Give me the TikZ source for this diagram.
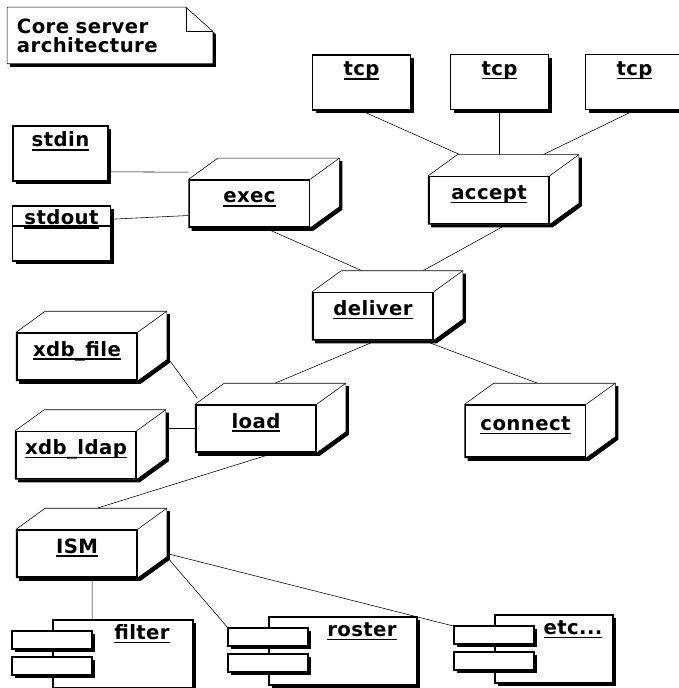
\documentclass[tikz,border=0pt]{standalone}
\usepackage{fontspec}
\usepackage{tikz}
\usetikzlibrary{calc, shadows}

\newfontfamily\umlfont[LetterSpace=2]{DejaVu Sans}
\newsavebox{\unamebox}
\newcommand{\uname}[1]{\sbox{\unamebox}{#1}\rlap{\vrule height -1.5pt depth 2.6pt width \wd\unamebox}\usebox{\unamebox}}

\pgfdeclarelayer{background}
\pgfsetlayers{background,main}

\def\dx{29}
\def\dy{-21}

\begin{document}
\begin{tikzpicture}[
    x=0.025cm, y=-0.025cm,
    line width=1.1pt,
    every node/.style={font=\umlfont\bfseries\fontsize{14}{13.5}\selectfont},
    boxShadow/.style={drop shadow={shadow xshift=2.3pt, shadow yshift=-2.3pt, opacity=1, fill=black}},
    cube/.style={draw, minimum width=3cm, minimum height=1.175cm, inner sep=0pt,
        text height=0.4cm, text depth=0.425cm},
    plainbox/.style={draw, fill=white, boxShadow, minimum width=2.45cm, minimum height=1.375cm,
        inner sep=0pt, text height=0.4cm, text depth=0.725cm},
    component/.style={draw, fill=white, boxShadow, minimum width=3.5cm, minimum height=1.7cm,
        inner sep=0pt, text height=0.4cm, text depth=1.11cm,
        execute at begin node={\hspace*{0.95cm}}},
    port/.style={draw, fill=white, boxShadow},
    notebox/.style={minimum width=5.1cm, minimum height=1.375cm, inner xsep=0.225cm,
        text width=4.65cm, align=left}
    ]
    \useasboundingbox (0,0) rectangle (678,688);

    \node[notebox] (note) at (110,35.5) {Core server\\architecture};

    \node[plainbox] (tcpa) at (361.5,82.5) {\uname{tcp}};
    \node[plainbox] (tcpb) at (499.5,82) {\uname{tcp}};
    \node[plainbox] (tcpc) at (634.5,82) {\uname{tcp}};
    \node[plainbox, minimum width=2.375cm] (stdin) at (60.5,153.5) {\uname{stdin}};
    \node[plainbox, text depth=0.825cm] (stdout) at (61.5,233.5) {\uname{stdout}};
    \draw ($(stdout.north west)+(0,21)$) -- ($(stdout.north east)+(0,21)$);

    \node[cube] (exec) at (249.5,203.5) {\uname{exec}};
    \node[cube] (accept) at (489,200) {\uname{accept}};
    \node[cube] (deliver) at (373,316) {\uname{deliver}};
    \node[cube, minimum height=1.3cm] (connect) at (525.5,431) {\uname{connect}};
    \node[cube] (xdbfile) at (77,356.5) {\uname{xdb\_file}};
    \node[cube] (xdbldap) at (76,455) {\uname{xdb\_ldap}};
    \node[cube] (load) at (256,428.5) {\uname{load}};
    \node[cube] (ism) at (77,553.5) {\uname{ISM}};

    \node[component] (filter) at (123,654) {\uname{filter}};
    \node[component, minimum width=3.7cm] (roster) at (343,651) {\uname{roster}};
    \node[component, minimum width=2.95cm] (etc) at (554,649) {\uname{etc...}};

    % ports of the components
    \foreach \c in {filter,roster,etc} {
        \draw[port] ($(\c.north west)+(-40,12)$) rectangle ($(\c.north west)+(40,30)$);
        \draw[port] ($(\c.north west)+(-40,38)$) rectangle ($(\c.north west)+(40,56)$);
    }

    \foreach \n in {exec,accept,deliver,connect,xdbfile,xdbldap,load,ism}
        \coordinate (\n-top) at ($(\n.north)+(\dx,\dy)$);

    \begin{pgfonlayer}{background}
        % note
        \fill[transform canvas={shift={(3,3)}}] (note.south west) -- (note.north west) -- ($(note.north east)+(-27,0)$)
            -- ($(note.north east)+(0,24)$) -- (note.south east) -- cycle;
        \filldraw[fill=white] (note.south west) -- (note.north west) -- ($(note.north east)+(-27,0)$)
            -- ($(note.north east)+(0,24)$) -- (note.south east) -- cycle;
        \draw ($(note.north east)+(-27,0)$) |- ($(note.north east)+(0,24)$);

        % connectors
        \draw (tcpa.south) -- ($(accept-top)+(-58,0)$);
        \draw (tcpb.south) -- (tcpb.south |- accept-top);
        \draw (tcpc.south) -- ($(accept-top)+(25,0)$);
        \draw ($(stdin.south east)+(0,-10)$) -- ($(exec.north west)+(0,-7)$);
        \draw ($(stdout.north east)+(0,14)$) -- ($(exec.west)+(0,12)$);
        \draw ($(exec.south)+(15,0)$) -- ($(deliver-top)+(-40,0)$);
        \draw ($(accept.south)+(18,0)$) -- ($(deliver-top)+(21,0)$);
        \draw ($(deliver.south)+(4,0)$) -- ($(load-top)+(-10,0)$);
        \draw ($(deliver.south)+(50,0)$) -- ($(connect-top)+(-17,0)$);
        \draw ($(xdbfile.east)+(\dx,0)$) -- ($(load.north west)+(2,-6)$);
        \draw (load.west) -- (load.west -| xdbldap.east);
        \draw ($(load.south)+(19,0)$) -- ($(ism-top)+(-9,0)$);
        \draw ($(ism.south west)+(76,0)$) -- ($(filter.north west)+(40,0)$);
        \draw ($(ism.south east)+(\dx,\dy)$) -- ($(roster.north west)+(-40,12)$);
        \draw ($(ism.east)+(\dx,0)$) -- ($(etc.north west)+(-40,12)$);

        % 3d boxes
        \foreach \n in {exec,accept,deliver,connect,xdbfile,xdbldap,load,ism} {
            \fill[transform canvas={shift={(3,3)}}] (\n.south west) -- (\n.north west) -- ++(\dx,\dy)
                -| ($(\n.south east)+(\dx,\dy)$) -- (\n.south east) -- cycle;
            \filldraw[fill=white] (\n.south west) -- (\n.north west) -- ++(\dx,\dy)
                -| ($(\n.south east)+(\dx,\dy)$) -- (\n.south east) -- cycle;
            \draw (\n.north east) -- ++(\dx,\dy);
        }
    \end{pgfonlayer}
\end{tikzpicture}
\end{document}
